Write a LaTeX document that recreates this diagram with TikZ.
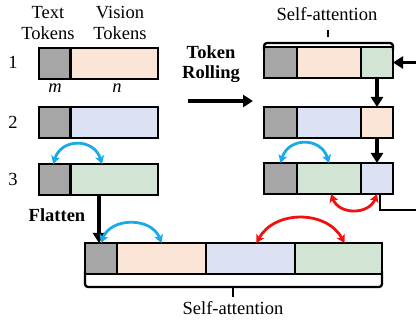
\documentclass[tikz,border=0pt]{standalone}
\usepackage{fontspec}
\setmainfont{Liberation Serif}
\usetikzlibrary{arrows.meta,calc}
\definecolor{cgray}{HTML}{A6A6A6}
\definecolor{cpeach}{HTML}{FBE5D6}
\definecolor{clav}{HTML}{DCE2F3}
\definecolor{cgreen}{HTML}{D2E5D5}
\definecolor{cblue}{HTML}{1AAAE8}
\definecolor{cred}{HTML}{F21010}
\tikzset{
  cell/.style={draw=black, line width=2.3pt, inner sep=0pt, outer sep=0pt, minimum height=31pt, anchor=north west},
  lbl/.style={font=\fontsize{18.5}{21}\selectfont, inner sep=0pt, align=center},
  blbl/.style={font=\fontsize{18.5}{20}\selectfont\bfseries, inner sep=0pt, align=center},
  blk/.style={line width=3.5pt, -{Triangle[length=10pt,width=12pt]}},
  barc/.style={line width=2.8pt, cblue, {Stealth[length=8pt,width=9pt,inset=2pt]}-{Stealth[length=8pt,width=9pt,inset=2pt]}},
  rarc/.style={line width=2.8pt, cred, {Stealth[length=8pt,width=9pt,inset=2pt]}-{Stealth[length=8pt,width=9pt,inset=2pt]}},
  brace/.style={line width=2.3pt, rounded corners=3pt},
}
\begin{document}
\begin{tikzpicture}[x=1pt,y=-1pt]
\useasboundingbox (0,0) rectangle (416,321);
% left column
\node[cell, fill=cgray, minimum width=31.5pt] (L1a) at (39,48) {};
\node[cell, fill=cpeach, minimum width=87.5pt] (L1b) at (70.5,48) {};
\node[cell, fill=cgray, minimum width=31.5pt] (L2a) at (39,107) {};
\node[cell, fill=clav, minimum width=87.5pt] (L2b) at (70.5,107) {};
\node[cell, fill=cgray, minimum width=31.5pt] (L3a) at (39,164) {};
\node[cell, fill=cgreen, minimum width=87.5pt] (L3b) at (70.5,164) {};
% right column
\node[cell, fill=cgray, minimum width=33pt] (R1a) at (264,47) {};
\node[cell, fill=cpeach, minimum width=64pt] (R1b) at (297,47) {};
\node[cell, fill=cgreen, minimum width=32pt] (R1c) at (361,47) {};
\node[cell, fill=cgray, minimum width=33pt] (R2a) at (264,107) {};
\node[cell, fill=clav, minimum width=64pt] (R2b) at (297,107) {};
\node[cell, fill=cpeach, minimum width=32pt] (R2c) at (361,107) {};
\node[cell, fill=cgray, minimum width=33pt] (R3a) at (264,163) {};
\node[cell, fill=cgreen, minimum width=64pt] (R3b) at (297,163) {};
\node[cell, fill=clav, minimum width=32pt] (R3c) at (361,163) {};
% bottom
\node[cell, fill=cgray, minimum width=32pt] (Ba) at (85,243) {};
\node[cell, fill=cpeach, minimum width=89pt] (Bb) at (117,243) {};
\node[cell, fill=clav, minimum width=89pt] (Bc) at (206,243) {};
\node[cell, fill=cgreen, minimum width=87pt] (Bd) at (295,243) {};
% labels
\node[lbl] (tt) at (48,23) {Text\\Tokens};
\node[lbl] (vt) at (120,23) {Vision\\Tokens};
\node[lbl] (n1) at (13,62) {1};
\node[lbl] (n2) at (13,122) {2};
\node[lbl] (n3) at (13,179) {3};
\node[lbl, font=\fontsize{18.5}{21}\selectfont\itshape] (mm) at (55,88) {m};
\node[lbl, font=\fontsize{18.5}{21}\selectfont\itshape] (nn) at (117,88) {n};
\node[blbl] (tr) at (211,64) {Token\\Rolling};
\node[blbl] (fl) at (57,215) {Flatten};
\node[lbl] (sat) at (327,14) {Self-attention};
\node[lbl] (sab) at (233,308) {Self-attention};
% braces
\draw[brace] ([yshift=-3]R1a.north west) -- ++(0,-7) -| ([yshift=-3]R1c.north east);
\draw[line width=2.3pt] (328,37) -- (328,30);
\draw[brace] ([yshift=3]Ba.south west) -- (85,287) -| ([yshift=3]Bd.south east);
\draw[line width=2.3pt] (233,287) -- (233,297);
% black arrows
\coordinate (ta) at (188,101);
\coordinate (tb) at (253,101);
\draw[blk] (ta) -- (tb);
\coordinate (rin) at (418,62.5);
\draw[blk] (rin) -- (R1c.east);
\draw[blk] (R1c.south) -- (R2c.north);
\draw[blk] (R2c.south) -- (R3c.north);
\coordinate (rout) at (418,210);
\draw[line width=2.3pt] ([xshift=3]R3c.south) |- (rout);
\draw[blk] ([xshift=28.5]L3b.south west) -- ([xshift=28.5]L3b.south west |- Ba.north);
% arcs
\draw[barc] ([xshift=-1.5]L3a.north) .. controls +(8,-26) and +(-8,-26) .. ([xshift=31.5]L3b.north west);
\draw[barc] (R3a.north) .. controls +(8,-26) and +(-8,-26) .. (R3b.north);
\draw[rarc] ([xshift=2]R3b.south) .. controls +(8,21) and +(-8,21) .. (R3c.south);
\draw[barc] (Ba.north) .. controls +(10,-26) and +(-10,-26) .. (Bb.north);
\draw[rarc] ([xshift=6]Bc.north) .. controls +(18,-33) and +(-18,-33) .. ([xshift=6]Bd.north);
\end{tikzpicture}
\end{document}
